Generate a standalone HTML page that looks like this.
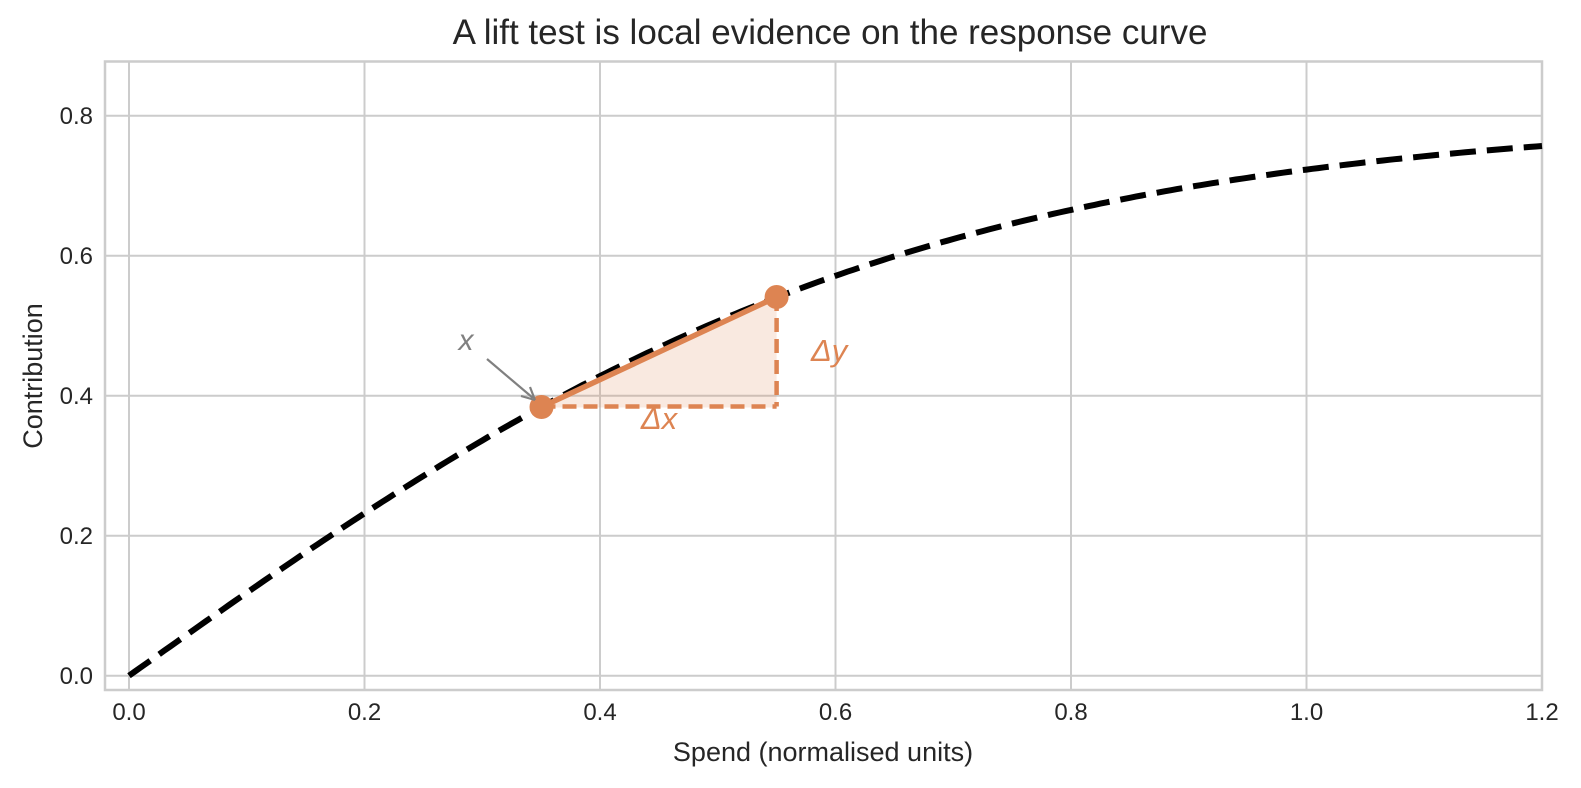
<!DOCTYPE html>
<html><head><meta charset="utf-8"><style>
body{margin:0;background:#fff}
text{font-family:"Liberation Sans","DejaVu Sans",sans-serif;fill:#262626}
</style></head><body>
<svg width="1581" height="783" xmlns="http://www.w3.org/2000/svg">
<rect width="1581" height="783" fill="#fff"/>
<g stroke="#cccccc" stroke-width="2">
<line x1="129" y1="61.5" x2="129" y2="690"/><line x1="364.5" y1="61.5" x2="364.5" y2="690"/>
<line x1="600" y1="61.5" x2="600" y2="690"/><line x1="835.5" y1="61.5" x2="835.5" y2="690"/>
<line x1="1071" y1="61.5" x2="1071" y2="690"/><line x1="1306.5" y1="61.5" x2="1306.5" y2="690"/>
<line x1="105" y1="675.7" x2="1542" y2="675.7"/><line x1="105" y1="535.7" x2="1542" y2="535.7"/>
<line x1="105" y1="395.7" x2="1542" y2="395.7"/><line x1="105" y1="255.7" x2="1542" y2="255.7"/>
<line x1="105" y1="115.7" x2="1542" y2="115.7"/>
</g>
<rect x="105" y="61.5" width="1437" height="628.5" fill="none" stroke="#cccccc" stroke-width="2.5"/>
<g font-size="24" text-anchor="middle">
<text x="129" y="720">0.0</text><text x="364.5" y="720">0.2</text><text x="600" y="720">0.4</text>
<text x="835.5" y="720">0.6</text><text x="1071" y="720">0.8</text><text x="1306.5" y="720">1.0</text><text x="1542" y="720">1.2</text>
</g>
<g font-size="24" text-anchor="end">
<text x="93" y="684">0.0</text><text x="93" y="544">0.2</text><text x="93" y="404">0.4</text>
<text x="93" y="264">0.6</text><text x="93" y="124">0.8</text>
</g>
<text x="823" y="761" font-size="27" text-anchor="middle">Spend (normalised units)</text>
<text transform="translate(42,376) rotate(-90)" font-size="27" text-anchor="middle">Contribution</text>
<text x="830" y="44" font-size="35" text-anchor="middle">A lift test is local evidence on the response curve</text>
<path d="M541.5,407.5 L776.6,297 L776.6,407.5 Z" fill="#dd8452" fill-opacity="0.18"/>
<path id="curve" fill="none" stroke="#000" stroke-width="6" stroke-dasharray="26,11"/>
<line x1="541.5" y1="406.5" x2="776.6" y2="406.5" stroke="#dd8452" stroke-width="4.5" stroke-dasharray="14,7"/>
<line x1="776.6" y1="297" x2="776.6" y2="406.5" stroke="#dd8452" stroke-width="4.5" stroke-dasharray="14,7"/>
<line x1="541.5" y1="407" x2="776.6" y2="297" stroke="#dd8452" stroke-width="5.5"/>
<circle cx="541.5" cy="407" r="12" fill="#dd8452"/>
<circle cx="776.6" cy="297" r="12" fill="#dd8452"/>
<line x1="487" y1="359" x2="533" y2="398" stroke="#808080" stroke-width="2.2"/>
<path d="M535,400 L521,396 M535,400 L530,387" stroke="#808080" stroke-width="2.2" fill="none"/>
<text x="466" y="350" font-size="30" font-style="italic" text-anchor="middle" style="fill:#808080">x</text>
<text x="811" y="361" font-size="31" font-style="italic" style="fill:#dd8452">Δy</text>
<text x="659" y="429" font-size="31" font-style="italic" text-anchor="middle" style="fill:#dd8452">Δx</text>
</svg>
<script>
function px(x){return 129+x*1177.5}function py(y){return 675.7-y*700}
var d="";
for(var i=0;i<=240;i++){var x=i*1.2/240,y=0.8*Math.tanh(x/0.67);
d+=(d?"L":"M")+px(x).toFixed(1)+","+py(y).toFixed(1);}
document.getElementById("curve").setAttribute("d",d);
</script>
</body></html>
